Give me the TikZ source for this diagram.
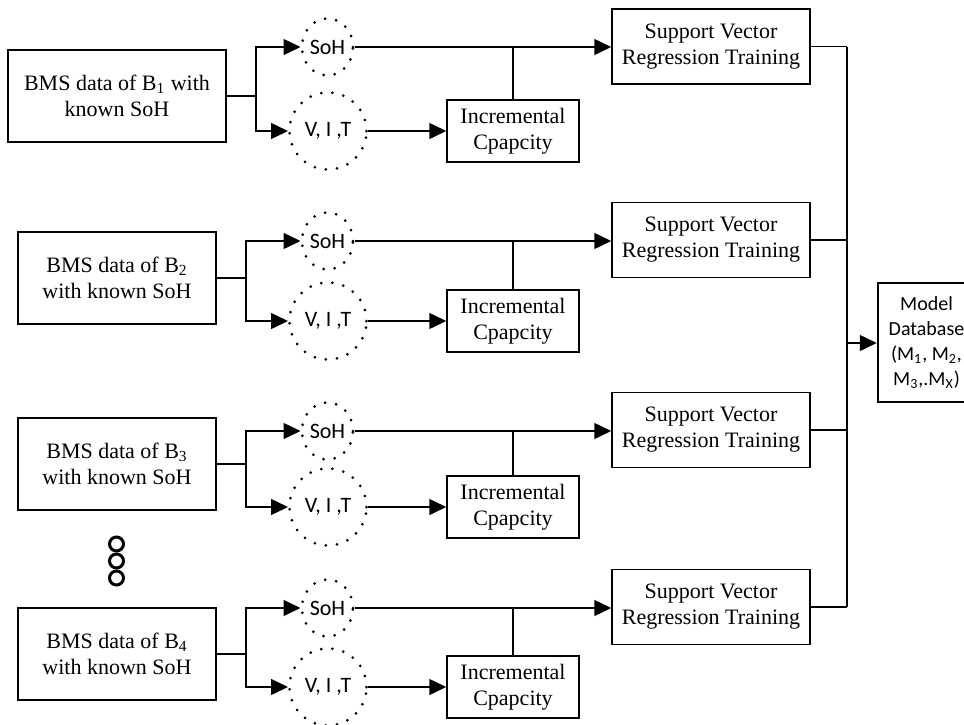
\documentclass[tikz,border=0pt]{standalone}
\usepackage{fontspec}
\setmainfont{Liberation Serif}
\newfontfamily\carlito{Carlito}
\usepackage{tikz}
\usetikzlibrary{shapes.geometric,arrows.meta,positioning,calc}

\begin{document}
\begin{tikzpicture}[
    x=0.5pt, y=-0.5pt,
    box/.style={draw, line width=0.75pt, align=center, inner sep=0pt, font=\fontsize{11}{13}\selectfont},
    bms/.style={box, minimum width=99pt, minimum height=46pt},
    svr/.style={box, minimum width=99pt, minimum height=37.5pt},
    icbox/.style={box, minimum width=66pt, minimum height=31pt},
    sig/.style={ellipse, draw, line width=1.5pt, dash pattern=on 0pt off 5.6pt, line cap=round, inner sep=0pt, font=\carlito\fontsize{11}{13}\selectfont},
    soh/.style={sig, minimum width=25.5pt, minimum height=28.5pt},
    vit/.style={sig, minimum width=38.5pt, minimum height=38.5pt},
    model/.style={draw, line width=1.25pt, align=center, inner sep=0pt, minimum width=48.5pt, minimum height=59.5pt, font=\carlito\fontsize{10}{12.5}\selectfont},
    more/.style={circle, draw, line width=1.5pt, minimum size=7pt, inner sep=0pt},
    link/.style={line width=0.75pt},
    feed/.style={link, -{Triangle[length=8.5pt,width=8pt]}},
]
    \useasboundingbox (0,0) rectangle (964,724);
    % Battery data
    \node[bms, minimum width=109pt] (bms1) at (117,96) {BMS data of B\textsubscript{1} with\\known SoH};
    \node[bms] (bms2) at (117,278) {BMS data of B\textsubscript{2}\\with known SoH};
    \node[bms] (bms3) at (117,464) {BMS data of B\textsubscript{3}\\with known SoH};
    \node[bms] (bms4) at (117,654) {BMS data of B\textsubscript{4}\\with known SoH};
    % Further batteries
    \node[more] (more1) at (116.5,544) {};
    \node[more] (more2) at (116.5,561) {};
    \node[more] (more3) at (116.5,578) {};
    % Model database
    \node[model] (model) at (926.5,342.5) {Model\\Database\\(M\textsubscript{1}, M\textsubscript{2},\\M\textsubscript{3},.M\textsubscript{X})};
    \coordinate (bus) at (847,343);
    % One chain per battery
    \foreach \k/\ys/\yv/\yr in {1/47/131/46.5, 2/241/321/240, 3/431/507/430, 4/608/687/607} {
        \node[soh] (soh\k) at (327.5,\ys) {SoH};
        \node[vit] (vit\k) at (328,\yv) {V, I ,T};
        \node[icbox] (ic\k) at (513,\yv) {Incremental\\Cpapcity};
        \node[svr] (svr\k) at (711,\yr) {Support Vector\\Regression Training};
        \coordinate (br\k) at ($(bms\k.east)+(29,0)$);
        \draw[link] (bms\k.east) -- (br\k);
        \draw[feed] (br\k) |- (soh\k.west);
        \draw[feed] (br\k) |- (vit\k.west);
        \draw[feed] (vit\k.east) -- (vit\k.east -| ic\k.west);
        \draw[feed] (soh\k.east) -- (soh\k.east -| svr\k.west);
        \draw[link] (ic\k.north) -- (ic\k.north |- soh\k.east);
        \draw[link] (svr\k.east) -- (svr\k.east -| bus);
    }
    \draw[link] (svr1.east -| bus) -- (svr4.east -| bus);
    \draw[feed] (bus) -- (bus -| model.west);
\end{tikzpicture}
\end{document}
